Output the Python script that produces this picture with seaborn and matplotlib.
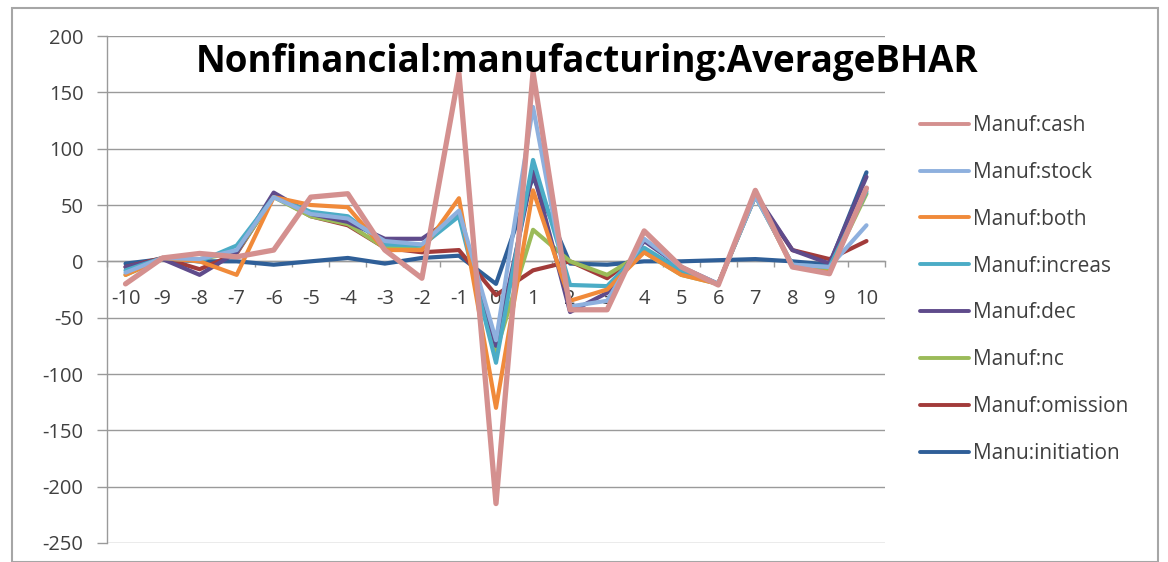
import numpy as np
import pandas as pd
import matplotlib
matplotlib.use("Agg")
import matplotlib.pyplot as plt
import seaborn as sns
from matplotlib.lines import Line2D
from matplotlib.patches import Rectangle

# Event window (relative period)
periods = list(range(-10, 11))

# Average BHAR per series
cash       = [-20, 3, 7, 4, 10, 57, 60, 10, -15, 167, -215, 168, -43, -43, 27, -5, -21, 63, -5, -11, 65]
stock      = [-10, 3, 2, 10, 57, 42, 38, 18, 15, 45, -70, 137, -40, -35, 20, -5, -20, 58, -3, -5, 32]
both       = [-12, 3, 0, -12, 57, 50, 48, 10, 10, 56, -130, 63, -35, -25, 8, -12, -20, 60, -5, -10, 65]
increas    = [-8, 3, 0, 14, 57, 44, 40, 15, 14, 40, -90, 90, -21, -22, 12, -8, -20, 58, -3, -5, 62]
dec        = [-5, 2, -12, 8, 61, 42, 35, 20, 20, 42, -75, 80, -45, -28, 18, -5, -20, 60, 10, -2, 75]
nc         = [-12, 2, 2, 8, 57, 40, 33, 12, 14, 42, -80, 28, 0, -12, 8, -12, -20, 58, -3, -8, 60]
omission   = [-5, 3, -7, 7, 58, 40, 32, 12, 8, 10, -30, -8, 0, -15, 10, -10, -20, 58, 10, 2, 18]
initiation = [-2, 2, 0, 0, -3, 0, 3, -2, 3, 5, -20, 75, -2, -3, 0, 0, 1, 2, 0, -3, 79]

series_names = ["Manu:initiation", "Manuf:omission", "Manuf:nc", "Manuf:dec",
                "Manuf:increas", "Manuf:both", "Manuf:stock", "Manuf:cash"]
series_values = [initiation, omission, nc, dec, increas, both, stock, cash]
series_colors = ["#2F5F98", "#A23B3A", "#9BBB59", "#5F4B8B",
                 "#4BACC6", "#F08A3A", "#8EB0DE", "#D4908F"]

y_ticks = list(range(-250, 201, 50))
title = "Nonfinancial:manufacturing:AverageBHAR"

df = pd.DataFrame({
    "period": periods * len(series_names),
    "bhar": [v for vals in series_values for v in vals],
    "series": [n for n in series_names for _ in periods],
})

sns.set_theme(style="white")
plt.rcParams["font.family"] = ["Open Sans", "DejaVu Sans"]

W, H = 1168, 562
fig = plt.figure(figsize=(W / 100, H / 100), dpi=100)
fig.patch.set_facecolor("white")

# outer chart frame
fig.patches.append(Rectangle((12 / W, 0), (1158 - 12) / W, 1 - 8 / H,
                             transform=fig.transFigure, fill=False,
                             edgecolor="#A6A6A6", linewidth=1.5))

ax = fig.add_axes([107 / W, 1 - 543 / H, (885 - 107) / W, (543 - 36) / H])
ax.set_facecolor("white")

palette = dict(zip(series_names, series_colors))
sns.lineplot(data=df, x="period", y="bhar", hue="series", hue_order=series_names,
             palette=palette, linewidth=3.0, legend=False, ax=ax, sort=False)
# the cash series is drawn a little heavier
ax.lines[-1].set_linewidth(3.8)

ax.set_xlim(-10.5, 10.5)
ax.set_ylim(-250, 200)
ax.set_yticks(y_ticks)
ax.set_yticklabels([str(t) for t in y_ticks])
ax.set_xticks(periods)
ax.set_xticklabels([str(p) for p in periods])
ax.set_xticks(np.arange(-10.5, 11, 1.0), minor=True)
ax.set_xlabel("")
ax.set_ylabel("")

ax.yaxis.grid(True, color="#9A9A9A", linewidth=1.0)
ax.set_axisbelow(True)

for s in ["top", "right"]:
    ax.spines[s].set_visible(False)
ax.spines["left"].set_color("#9A9A9A")
ax.spines["left"].set_linewidth(1.0)
ax.spines["bottom"].set_position(("data", 0))
ax.spines["bottom"].set_color("#9A9A9A")
ax.spines["bottom"].set_linewidth(1.0)
ax.spines["bottom"].set_zorder(0.5)

ax.tick_params(axis="y", which="major", direction="out", length=7, width=1,
               color="#9A9A9A", pad=10, labelsize=14.5, labelcolor="#404040", left=True)
ax.tick_params(axis="x", which="major", length=0, pad=20, labelsize=14.5,
               labelcolor="#404040", bottom=True)
ax.tick_params(axis="x", which="minor", direction="out", length=4, width=1,
               color="#9A9A9A", bottom=True)

fig.text(587 / W, 1 - 62 / H, title, ha="center", va="center",
         fontsize=26.5, fontweight="bold", color="black")

handles = [Line2D([0], [0], color=c, linewidth=2.8) for c in series_colors][::-1]
labels = series_names[::-1]
fig.legend(handles, labels, loc="upper left", bbox_to_anchor=(920 / W, 1 - 115 / H),
           frameon=False, fontsize=15, handlelength=2.35, handletextpad=0.2,
           labelspacing=1.24, borderaxespad=0, borderpad=0, labelcolor="#404040")

fig.savefig("out.png", dpi=100, facecolor="white")
